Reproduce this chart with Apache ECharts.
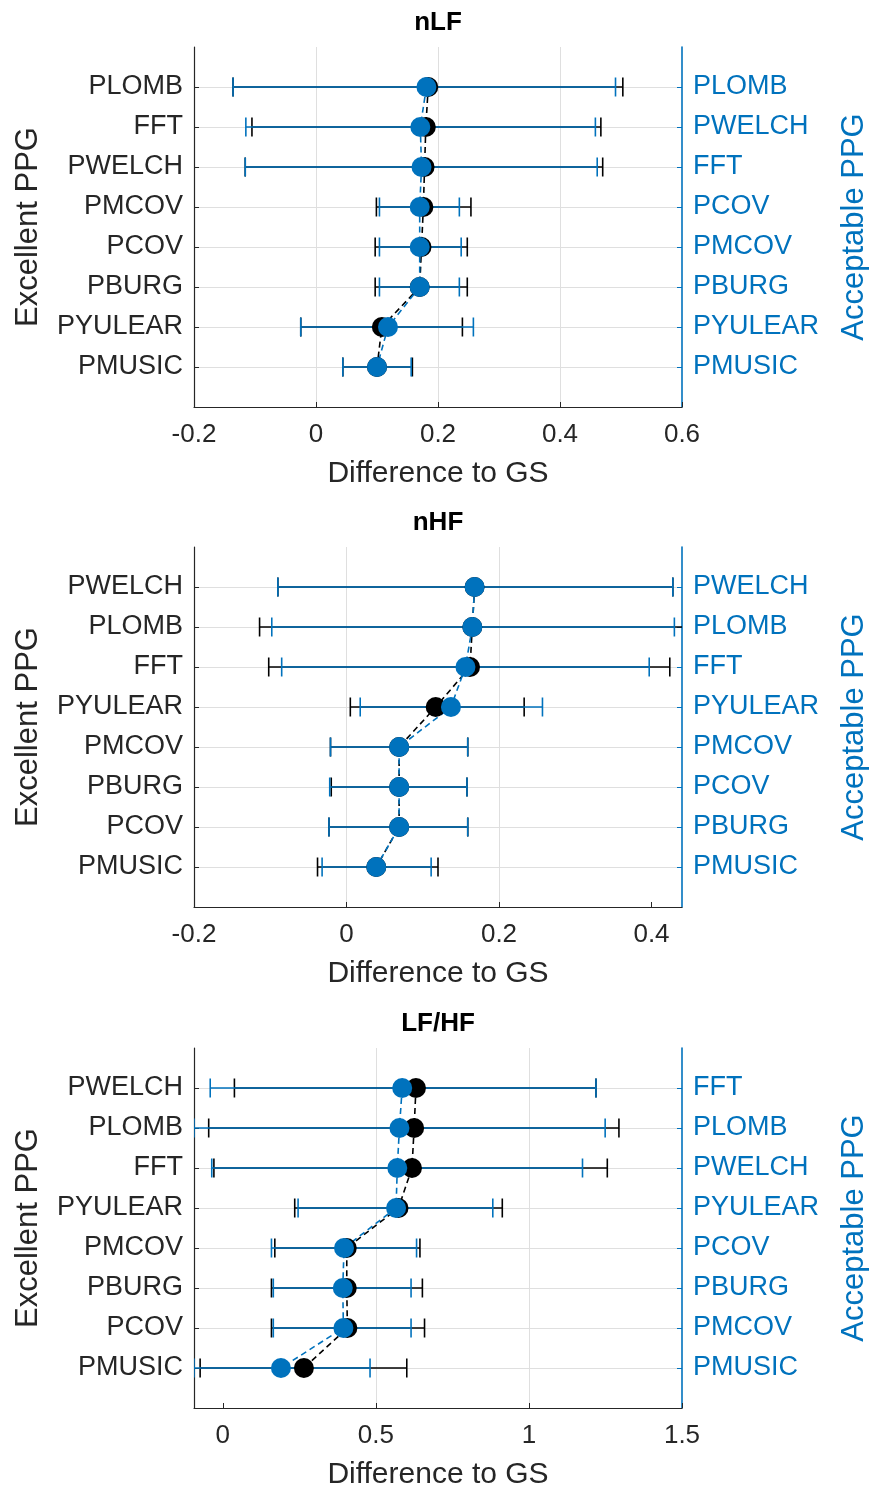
<!DOCTYPE html>
<html>
<head>
<meta charset="utf-8">
<script src="https://cdn.jsdelivr.net/npm/echarts@6/dist/echarts.min.js"></script>
<style>
html,body{margin:0;padding:0;background:#fff;}
#chart{width:869px;height:1490px;}
</style>
</head>
<body>
<div id="chart"></div>
<script>
// ---------- DATA (rows listed top to bottom) ----------
const titles = ['nLF', 'nHF', 'LF/HF'];

const leftCats1  = ['PLOMB','FFT','PWELCH','PMCOV','PCOV','PBURG','PYULEAR','PMUSIC'];
const rightCats1 = ['PLOMB','PWELCH','FFT','PCOV','PMCOV','PBURG','PYULEAR','PMUSIC'];
const excMean1 = [0.184, 0.180, 0.178, 0.176, 0.173, 0.170, 0.108, 0.100];
const excLow1  = [-0.136, -0.105, -0.116, 0.099, 0.097, 0.097, -0.025, 0.044];
const excHigh1 = [0.503, 0.467, 0.470, 0.254, 0.248, 0.248, 0.240, 0.158];
const accMean1 = [0.181, 0.171, 0.173, 0.170, 0.170, 0.170, 0.118, 0.100];
const accLow1  = [-0.136, -0.115, -0.116, 0.104, 0.104, 0.104, -0.025, 0.044];
const accHigh1 = [0.491, 0.458, 0.461, 0.235, 0.238, 0.235, 0.258, 0.156];

const leftCats2  = ['PWELCH','PLOMB','FFT','PYULEAR','PMCOV','PBURG','PCOV','PMUSIC'];
const rightCats2 = ['PWELCH','PLOMB','FFT','PYULEAR','PMCOV','PCOV','PBURG','PMUSIC'];
const excMean2 = [0.168, 0.165, 0.162, 0.117, 0.069, 0.069, 0.069, 0.039];
const excLow2  = [-0.090, -0.114, -0.102, 0.005, -0.021, -0.020, -0.023, -0.038];
const excHigh2 = [0.428, 0.443, 0.424, 0.233, 0.159, 0.158, 0.159, 0.120];
const accMean2 = [0.168, 0.165, 0.156, 0.137, 0.069, 0.069, 0.069, 0.039];
const accLow2  = [-0.090, -0.098, -0.085, 0.018, -0.021, -0.022, -0.023, -0.032];
const accHigh2 = [0.428, 0.430, 0.397, 0.257, 0.159, 0.158, 0.159, 0.111];

const leftCats3  = ['PWELCH','PLOMB','FFT','PYULEAR','PMCOV','PBURG','PCOV','PMUSIC'];
const rightCats3 = ['FFT','PLOMB','PWELCH','PYULEAR','PCOV','PBURG','PMCOV','PMUSIC'];
const excMean3 = [0.631, 0.625, 0.618, 0.574, 0.405, 0.405, 0.407, 0.265];
const excLow3  = [0.038, -0.046, -0.029, 0.235, 0.170, 0.159, 0.159, -0.074];
const excHigh3 = [1.219, 1.294, 1.256, 0.913, 0.644, 0.652, 0.659, 0.601];
const accMean3 = [0.586, 0.577, 0.570, 0.566, 0.396, 0.392, 0.394, 0.190];
const accLow3  = [-0.041, -0.094, -0.036, 0.246, 0.159, 0.165, 0.165, -0.094];
const accHigh3 = [1.219, 1.249, 1.175, 0.882, 0.633, 0.615, 0.615, 0.481];

const xTicks1 = [-0.2, 0, 0.2, 0.4, 0.6];
const xTicks2 = [-0.2, 0, 0.2, 0.4];
const xTicks3 = [0, 0.5, 1, 1.5];
const xRange1 = [-0.2, 0.6];
const xRange2 = [-0.2, 0.44];
const xRange3 = [-0.094, 1.5];

const xName = 'Difference to GS';
const leftName = 'Excellent PPG';
const rightName = 'Acceptable PPG';

// ---------- STYLE / LAYOUT ----------
const BLUE = '#0072BD';
const DARK = '#262626';
const GRIDC = '#dfdfdf';
const FONT = '"Liberation Sans", Arial, sans-serif';
const plotLeft = 194, plotWidth = 488, plotHeight = 360;
const plotTops = [47, 547, 1048];

const panels = [
  {left: leftCats1, right: rightCats1, em: excMean1, el: excLow1, eh: excHigh1, am: accMean1, al: accLow1, ah: accHigh1, ticks: xTicks1, range: xRange1},
  {left: leftCats2, right: rightCats2, em: excMean2, el: excLow2, eh: excHigh2, am: accMean2, al: accLow2, ah: accHigh2, ticks: xTicks2, range: xRange2},
  {left: leftCats3, right: rightCats3, em: excMean3, el: excLow3, eh: excHigh3, am: accMean3, al: accLow3, ah: accHigh3, ticks: xTicks3, range: xRange3}
];

function errRenderer(color) {
  return function (params, api) {
    const lo = api.value(0), y = api.value(1), hi = api.value(2);
    const p1 = api.coord([lo, y]);
    const p2 = api.coord([hi, y]);
    const h = 9.5;
    const st = {stroke: color, lineWidth: 1.6, fill: null};
    return {
      type: 'group',
      children: [
        {type: 'line', shape: {x1: p1[0], y1: p1[1], x2: p2[0], y2: p2[1]}, style: st},
        {type: 'line', shape: {x1: p1[0], y1: p1[1] - h, x2: p1[0], y2: p1[1] + h}, style: st},
        {type: 'line', shape: {x1: p2[0], y1: p2[1] - h, x2: p2[0], y2: p2[1] + h}, style: st}
      ]
    };
  };
}

const grids = [], xAxes = [], yAxes = [], series = [], graphics = [];

panels.forEach((p, i) => {
  const n = p.left.length;
  grids.push({left: plotLeft, top: plotTops[i], width: plotWidth, height: plotHeight,
              containLabel: false, outerBoundsMode: 'none'});
  xAxes.push({
    type: 'value', gridIndex: i, position: 'bottom', min: p.range[0], max: p.range[1], z: 3,
    name: xName, nameLocation: 'middle', nameGap: 52,
    nameTextStyle: {color: DARK, fontSize: 30, fontFamily: FONT},
    axisLine: {show: true, onZero: false, lineStyle: {color: DARK, width: 1.2}},
    axisTick: {show: true, inside: true, length: 5, lineStyle: {color: DARK}, customValues: p.ticks},
    axisLabel: {color: DARK, fontSize: 26, fontFamily: FONT, margin: 15, customValues: p.ticks,
                formatter: v => String(v)},
    splitLine: {show: true, showMinLine: false, showMaxLine: false, lineStyle: {color: GRIDC, width: 1}}
  });
  const fmtL = v => (v >= 1 && v <= n) ? p.left[n - v] : '';
  const fmtR = v => (v >= 1 && v <= n) ? p.right[n - v] : '';
  yAxes.push({
    type: 'value', gridIndex: i, position: 'left', min: 0, max: n + 1, interval: 1, z: 3,
    name: leftName, nameLocation: 'middle', nameGap: 150, nameRotate: 90,
    nameTextStyle: {color: DARK, fontSize: 31, fontFamily: FONT},
    axisLine: {show: true, onZero: false, lineStyle: {color: DARK, width: 1.2}},
    axisTick: {show: true, inside: true, length: 5, lineStyle: {color: DARK}},
    axisLabel: {color: DARK, fontSize: 27, fontFamily: FONT, margin: 11, formatter: fmtL, showMinLabel: false, showMaxLabel: false},
    splitLine: {show: true, showMinLine: false, showMaxLine: false, lineStyle: {color: GRIDC, width: 1}}
  });
  yAxes.push({
    type: 'value', gridIndex: i, position: 'right', min: 0, max: n + 1, interval: 1, z: 3,
    name: rightName, nameLocation: 'middle', nameGap: 157, nameRotate: 90,
    nameTextStyle: {color: BLUE, fontSize: 31, fontFamily: FONT},
    axisLine: {show: true, onZero: false, lineStyle: {color: BLUE, width: 1.6}},
    axisTick: {show: true, inside: true, length: 5, lineStyle: {color: BLUE}},
    axisLabel: {color: BLUE, fontSize: 27, fontFamily: FONT, margin: 11, formatter: fmtR, showMinLabel: false, showMaxLabel: false},
    splitLine: {show: false}
  });
  const yIdx = 2 * i;
  const ys = p.left.map((_, k) => n - k);
  const groups = [
    {mean: p.em, low: p.el, high: p.eh, color: '#000000'},
    {mean: p.am, low: p.al, high: p.ah, color: BLUE}
  ];
  groups.forEach(g => {
    series.push({
      type: 'custom', xAxisIndex: i, yAxisIndex: yIdx, clip: true, z: 5,
      renderItem: errRenderer(g.color),
      encode: {x: [0, 2], y: 1},
      data: ys.map((y, k) => [g.low[k], y, g.high[k]]),
      silent: true
    });
    series.push({
      type: 'line', xAxisIndex: i, yAxisIndex: yIdx, z: 5,
      data: ys.map((y, k) => [g.mean[k], y]),
      symbol: 'circle', symbolSize: 20, showSymbol: true,
      lineStyle: {color: g.color, width: 1.6, type: [6, 4]},
      itemStyle: {color: g.color, borderWidth: 0},
      silent: true
    });
  });
  graphics.push({
    type: 'text', x: plotLeft + plotWidth / 2, y: plotTops[i] - 24,
    style: {text: titles[i], align: 'center', verticalAlign: 'middle', fontSize: 26, fontWeight: 'bold', fontFamily: FONT, fill: '#000'}
  });
});

const chart = echarts.init(document.getElementById('chart'), null, {renderer: 'canvas'});
chart.setOption({
  animation: false,
  backgroundColor: '#ffffff',
  grid: grids,
  xAxis: xAxes,
  yAxis: yAxes,
  series: series,
  graphic: graphics
});
</script>
</body>
</html>
